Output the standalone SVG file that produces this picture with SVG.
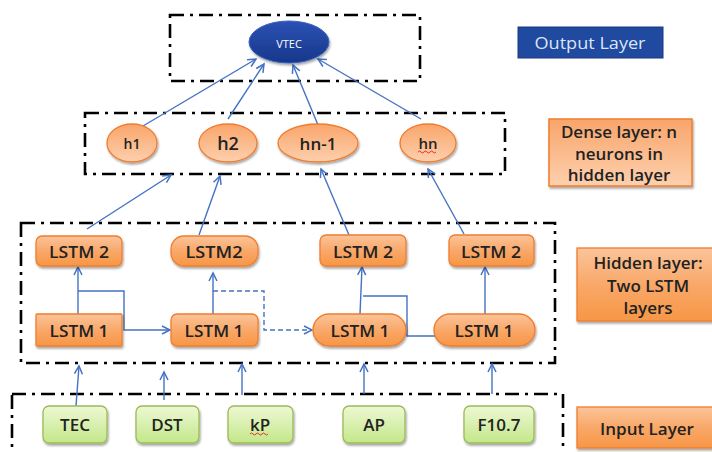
<svg xmlns="http://www.w3.org/2000/svg" width="712" height="452" viewBox="0 0 712 452">
<defs>
<linearGradient id="gOr" x1="0" y1="0" x2="0" y2="1">
<stop offset="0" stop-color="#FBC49A"/>
<stop offset="0.5" stop-color="#F9A869"/>
<stop offset="1" stop-color="#F79646"/>
</linearGradient>
<linearGradient id="gOrL" x1="0" y1="0" x2="0" y2="1">
<stop offset="0" stop-color="#F9A56A"/>
<stop offset="1" stop-color="#FDD0AE"/>
</linearGradient>
<linearGradient id="gGr" x1="0" y1="0" x2="0" y2="1">
<stop offset="0" stop-color="#EEF8D4"/>
<stop offset="1" stop-color="#C3E78A"/>
</linearGradient>
<linearGradient id="gBl" x1="0" y1="0" x2="0" y2="1">
<stop offset="0" stop-color="#2B52B4"/>
<stop offset="1" stop-color="#17378A"/>
</linearGradient>
<filter id="sh" x="-20%" y="-20%" width="150%" height="160%">
<feDropShadow dx="1" dy="2" stdDeviation="1.2" flood-color="#000" flood-opacity="0.35"/>
</filter>
<marker id="ar" markerUnits="userSpaceOnUse" markerWidth="12" markerHeight="12" refX="9" refY="5" orient="auto">
<path d="M1,1 L9,5 L1,9" fill="none" stroke="#4472C4" stroke-width="1.5"/>
</marker>
</defs>
<style>
.frame{fill:none;stroke:#000;stroke-width:2.6;stroke-dasharray:14 6 3 6}
.or{fill:url(#gOr);stroke:#F07D2E;stroke-width:1.3;filter:url(#sh)}
.orl{fill:url(#gOrL);stroke:#F07D2E;stroke-width:1.3;filter:url(#sh)}
.gr{fill:url(#gGr);stroke:#9BBB59;stroke-width:1.3;filter:url(#sh)}
.t{font-family:"Open Sans","Liberation Sans",sans-serif;font-weight:600;fill:#222;text-anchor:middle;dominant-baseline:central}
.lbl{font-size:17px}
.c{fill:none;stroke:#4472C4;stroke-width:1.4}
.cm{marker-end:url(#ar)}
.d{stroke-dasharray:5 3}
.sq{fill:none;stroke:#E02020;stroke-width:0.9}
</style>

<g id="frames">
<rect class="frame" x="170" y="15" width="250" height="66"/>
<rect class="frame" x="85" y="113" width="420" height="61"/>
<rect class="frame" x="21" y="223" width="534" height="140"/>
<rect class="frame" x="12" y="394" width="551" height="80"/>
</g>

<g id="connectors">
<line class="c cm" x1="143" y1="126" x2="256" y2="59"/>
<line class="c cm" x1="228" y1="119" x2="264" y2="64"/>
<line class="c cm" x1="318" y1="125" x2="293" y2="65"/>
<line class="c cm" x1="421" y1="119" x2="318" y2="59"/>
<line class="c cm" x1="87" y1="229" x2="171" y2="175"/>
<line class="c cm" x1="199" y1="235" x2="220" y2="176"/>
<line class="c cm" x1="349" y1="235" x2="321" y2="169"/>
<line class="c cm" x1="464" y1="234" x2="428" y2="169"/>
<line class="c cm" x1="78" y1="314" x2="78" y2="267"/>
<polyline class="c cm" points="78,291 124,291 124,330 170,330"/>
<line class="c cm" x1="213" y1="314" x2="213" y2="273"/>
<polyline class="c cm d" points="213,291 264,291 264,330 312,330"/>
<line class="c cm" x1="360" y1="314" x2="362" y2="267"/>
<polyline class="c cm" points="363,296 407,296 407,336 448,336"/>
<line class="c cm" x1="485" y1="314" x2="485" y2="267"/>
<line class="c cm" x1="76" y1="406" x2="79" y2="366"/>
<line class="c cm" x1="164" y1="400" x2="164" y2="372"/>
<line class="c cm" x1="242" y1="395" x2="242" y2="364"/>
<line class="c cm" x1="364" y1="394" x2="364" y2="364"/>
<line class="c cm" x1="492" y1="394" x2="492" y2="364"/>
</g>

<g id="vtec">
<ellipse cx="289" cy="42" rx="40" ry="21" fill="url(#gBl)" stroke="#3A62C0" stroke-width="1" filter="url(#sh)"/>
<text class="t" x="289" y="43" style="font-size:11px;font-weight:400;fill:#fff">VTEC</text>
</g>

<g id="h1">
<ellipse class="orl" cx="132" cy="143" rx="25" ry="19"/>
<text class="t" x="132" y="143" style="font-size:14px">h1</text>
</g>
<g id="h2">
<ellipse class="orl" cx="228" cy="143" rx="29" ry="19"/>
<text class="t" x="228" y="143" style="font-size:18px">h2</text>
</g>
<g id="hn-1">
<ellipse class="orl" cx="318" cy="143" rx="40" ry="19"/>
<text class="t" x="318" y="143" style="font-size:17px">hn-1</text>
</g>
<g id="hn">
<ellipse class="orl" cx="428" cy="143" rx="28" ry="19"/>
<text class="t" x="428" y="143" style="font-size:15px">hn</text>
<path class="sq" d="M418,152 q1.5,-2 3,0 t3,0 t3,0 t3,0 t3,0 t3,0"/>
</g>

<g id="lstm2a">
<rect class="or" x="36" y="236" width="86" height="30" rx="6"/>
<text class="t lbl" x="79" y="251" textLength="60" lengthAdjust="spacingAndGlyphs">LSTM 2</text>
</g>
<g id="lstm2b">
<rect class="or" x="171" y="236" width="87" height="30" rx="13"/>
<text class="t lbl" x="214" y="251" textLength="57" lengthAdjust="spacingAndGlyphs">LSTM2</text>
</g>
<g id="lstm2c">
<rect class="or" x="320" y="235" width="86" height="31" rx="6"/>
<text class="t lbl" x="363" y="251" textLength="60" lengthAdjust="spacingAndGlyphs">LSTM 2</text>
</g>
<g id="lstm2d">
<rect class="or" x="449" y="235" width="85" height="31" rx="6"/>
<text class="t lbl" x="491" y="251" textLength="60" lengthAdjust="spacingAndGlyphs">LSTM 2</text>
</g>

<g id="lstm1a">
<rect class="or" x="36" y="314" width="86" height="32" rx="1"/>
<text class="t lbl" x="79" y="330" textLength="59" lengthAdjust="spacingAndGlyphs">LSTM 1</text>
</g>
<g id="lstm1b">
<rect class="or" x="171" y="314" width="87" height="32" rx="6"/>
<text class="t lbl" x="214" y="330" textLength="59" lengthAdjust="spacingAndGlyphs">LSTM 1</text>
</g>
<g id="lstm1c">
<rect class="or" x="313" y="314" width="93" height="32" rx="16"/>
<text class="t lbl" x="360" y="330" textLength="59" lengthAdjust="spacingAndGlyphs">LSTM 1</text>
</g>
<g id="lstm1d">
<rect class="or" x="434" y="314" width="101" height="32" rx="16"/>
<text class="t lbl" x="484" y="330" textLength="59" lengthAdjust="spacingAndGlyphs">LSTM 1</text>
</g>

<g id="tec">
<rect class="gr" x="43" y="406" width="64" height="37" rx="6"/>
<text class="t lbl" x="75" y="424">TEC</text>
</g>
<g id="dst">
<rect class="gr" x="136" y="406" width="63" height="37" rx="6"/>
<text class="t lbl" x="167" y="424">DST</text>
</g>
<g id="kp">
<rect class="gr" x="228" y="406" width="65" height="37" rx="6"/>
<text class="t lbl" x="260" y="424">kP</text>
<path class="sq" d="M250,434 q1.5,-2 3,0 t3,0 t3,0 t3,0 t3,0 t3,0"/>
</g>
<g id="ap">
<rect class="gr" x="343" y="406" width="62" height="37" rx="6"/>
<text class="t lbl" x="374" y="424">AP</text>
</g>
<g id="f107">
<rect class="gr" x="464" y="406" width="70" height="37" rx="6"/>
<text class="t lbl" x="499" y="424">F10.7</text>
</g>

<g id="label-output">
<rect x="518" y="27" width="145" height="31" fill="#2049A0" stroke="#1A3A80" stroke-width="1"/>
<text class="t" x="590" y="42" style="font-size:17px;font-weight:400;fill:#DCE6F2" textLength="111" lengthAdjust="spacingAndGlyphs">Output Layer</text>
</g>
<g id="label-dense">
<rect class="orl" x="549" y="119" width="143" height="67" style="stroke-width:1.5"/>
<text class="t lbl" x="619" y="131">Dense layer: n</text>
<text class="t lbl" x="619" y="153">neurons in</text>
<text class="t lbl" x="619" y="174">hidden layer</text>
</g>
<g id="label-hidden">
<rect class="or" x="577" y="248" width="140" height="73"/>
<text class="t lbl" x="648" y="262">Hidden layer:</text>
<text class="t lbl" x="648" y="285">Two LSTM</text>
<text class="t lbl" x="648" y="307">layers</text>
</g>
<g id="label-input">
<rect class="or" x="577" y="407" width="140" height="41"/>
<text class="t lbl" x="647" y="428">Input Layer</text>
</g>
</svg>
